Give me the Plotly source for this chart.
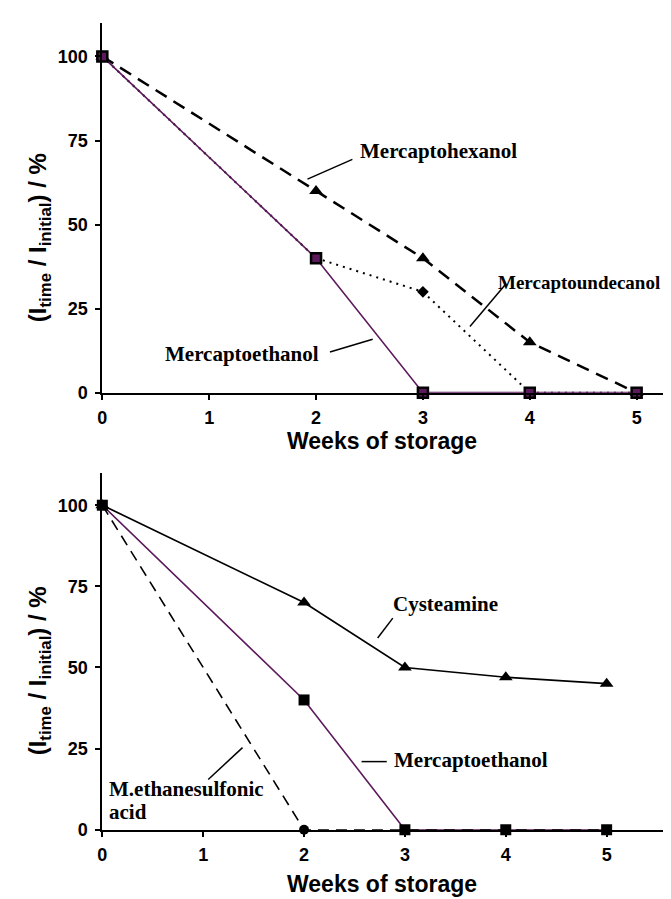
import plotly.graph_objects as go

W, H = 671, 899

# ---- data ----
weeks = [0, 2, 3, 4, 5]
top_ethanol = [100, 40, 0, 0, 0]
top_hexanol = [100, 60, 40, 15, 0]
top_undecanol = [100, 40, 30, 0, 0]

bot_cysteamine = [100, 70, 50, 47, 45]
bot_ethanol = [100, 40, 0, 0, 0]
bot_sulfonic = [100, 0, 0, 0, 0]

x_ticks = [0, 1, 2, 3, 4, 5]
y_ticks = [0, 25, 50, 75, 100]

PURPLE = "#5c1a5c"

fig = go.Figure()

# top panel
fig.add_trace(go.Scatter(x=weeks, y=top_undecanol, mode="lines", xaxis="x", yaxis="y",
                         line=dict(color="black", width=2, dash="2px,5px"), cliponaxis=False))
fig.add_trace(go.Scatter(x=[weeks[2]], y=[top_undecanol[2]], mode="markers", xaxis="x", yaxis="y",
                         marker=dict(symbol="diamond", size=9, color="black"), cliponaxis=False))
fig.add_trace(go.Scatter(x=weeks, y=top_hexanol, mode="lines+markers", xaxis="x", yaxis="y",
                         line=dict(color="black", width=2.5, dash="13px,8px"),
                         marker=dict(symbol="triangle-up", size=12, color="black"), cliponaxis=False))
fig.add_trace(go.Scatter(x=weeks, y=top_ethanol, mode="lines+markers", xaxis="x", yaxis="y",
                         line=dict(color=PURPLE, width=1.6),
                         marker=dict(symbol="square", size=10, color=PURPLE, line=dict(color="black", width=2.5)),
                         cliponaxis=False))

# bottom panel
fig.add_trace(go.Scatter(x=weeks, y=bot_cysteamine, mode="lines+markers", xaxis="x2", yaxis="y2",
                         line=dict(color="black", width=1.7),
                         marker=dict(symbol="triangle-up", size=12, color="black"), cliponaxis=False))
fig.add_trace(go.Scatter(x=weeks, y=bot_ethanol, mode="lines+markers", xaxis="x2", yaxis="y2",
                         line=dict(color=PURPLE, width=1.6),
                         marker=dict(symbol="square", size=11, color="black"), cliponaxis=False))
fig.add_trace(go.Scatter(x=weeks, y=bot_sulfonic, mode="lines", xaxis="x2", yaxis="y2",
                         line=dict(color="black", width=1.6, dash="11px,7px"), cliponaxis=False))
fig.add_trace(go.Scatter(x=[weeks[1]], y=[bot_sulfonic[1]], mode="markers", xaxis="x2", yaxis="y2",
                         marker=dict(symbol="circle", size=10, color="black"), cliponaxis=False))

tickfont = dict(family="Liberation Sans", size=18, color="black", weight="bold")
axis_common = dict(showgrid=False, zeroline=False, showline=True, linecolor="black", linewidth=1.8,
                   ticks="outside", ticklen=5, tickwidth=1.5, tickcolor="black", tickfont=tickfont)

fig.update_layout(
    width=W, height=H,
    margin=dict(l=0, r=0, t=0, b=0),
    paper_bgcolor="white", plot_bgcolor="white",
    showlegend=False,
    xaxis=dict(domain=[90 / W, 666 / W], range=[0, 5.35], tickvals=x_ticks, anchor="y",
               ticklabelstandoff=3, **axis_common),
    yaxis=dict(domain=[1 - 389 / H, 1 - 15 / H], range=[0, 110], tickvals=y_ticks, anchor="x",
               ticklabelstandoff=4, **axis_common),
    xaxis2=dict(domain=[90 / W, 655 / W], range=[0, 5.56], tickvals=x_ticks, anchor="y2",
                ticklabelstandoff=3, **axis_common),
    yaxis2=dict(domain=[1 - 831 / H, 1 - 470 / H], range=[0, 110], tickvals=y_ticks, anchor="x2",
                ticklabelstandoff=4, **axis_common),
)

ytitlefont = dict(family="Liberation Sans", size=24, color="black", weight="bold")
xtitlefont = dict(family="Liberation Sans", size=23, color="black", weight="bold")
labfont = dict(family="Liberation Serif", size=21, color="black", weight="bold")
labfont_s = dict(family="Liberation Serif", size=19, color="black", weight="bold")

anns = []
ytitle = "(I<sub>time</sub> / I<sub>initial</sub>) / %"
for yc in [232, 670]:
    anns.append(dict(text=ytitle, xref="paper", yref="paper", x=27 / W, y=1 - yc / H,
                     textangle=-90, showarrow=False, font=ytitlefont, xanchor="center", yanchor="middle"))
for yc, xc in [(438, 372), (886, 372)]:
    anns.append(dict(text="Weeks of storage", xref="paper", yref="paper", x=xc / W, y=1 - yc / H,
                     showarrow=False, font=xtitlefont, xanchor="center", yanchor="middle"))

# curve labels
anns += [
    dict(text="Mercaptohexanol", xref="x", yref="y", x=2.39, y=71.8, xanchor="left", yanchor="middle",
         showarrow=False, font=labfont),
    dict(text="Mercaptoundecanol", xref="x", yref="y", x=5.24, y=32.9, xanchor="right", yanchor="middle",
         showarrow=False, font=labfont_s),
    dict(text="Mercaptoethanol", xref="x", yref="y", x=0.57, y=11.5, xanchor="left", yanchor="middle",
         showarrow=False, font=labfont),
    dict(text="Cysteamine", xref="x2", yref="y2", x=2.86, y=69.5, xanchor="left", yanchor="middle",
         showarrow=False, font=labfont),
    dict(text="Mercaptoethanol", xref="x2", yref="y2", x=2.87, y=21.6, xanchor="left", yanchor="middle",
         showarrow=False, font=labfont),
    dict(text="M.ethanesulfonic", xref="x2", yref="y2", x=0.05, y=12.5, xanchor="left",
         yanchor="middle", showarrow=False, font=labfont),
    dict(text="acid", xref="x2", yref="y2", x=0.05, y=5.6, xanchor="left",
         yanchor="middle", showarrow=False, font=labfont),
]
fig.update_layout(annotations=anns)

leaders = [
    ("x", "y", 2.34, 69.4, 1.92, 63.5),
    ("x", "y", 3.77, 32.1, 3.44, 19.7),
    ("x", "y", 2.13, 12.1, 2.53, 15.9),
    ("x2", "y2", 2.88, 65.2, 2.73, 59.1),
    ("x2", "y2", 2.57, 21.0, 2.82, 21.0),
    ("x2", "y2", 1.39, 25.3, 1.05, 15.5),
]
shapes = []
for xr, yr, x0, y0, x1, y1 in leaders:
    shapes.append(dict(type="line", xref=xr, yref=yr, x0=x0, y0=y0, x1=x1, y1=y1,
                       line=dict(color="black", width=1.5)))
fig.update_layout(shapes=shapes)

fig.write_html("out.html")
